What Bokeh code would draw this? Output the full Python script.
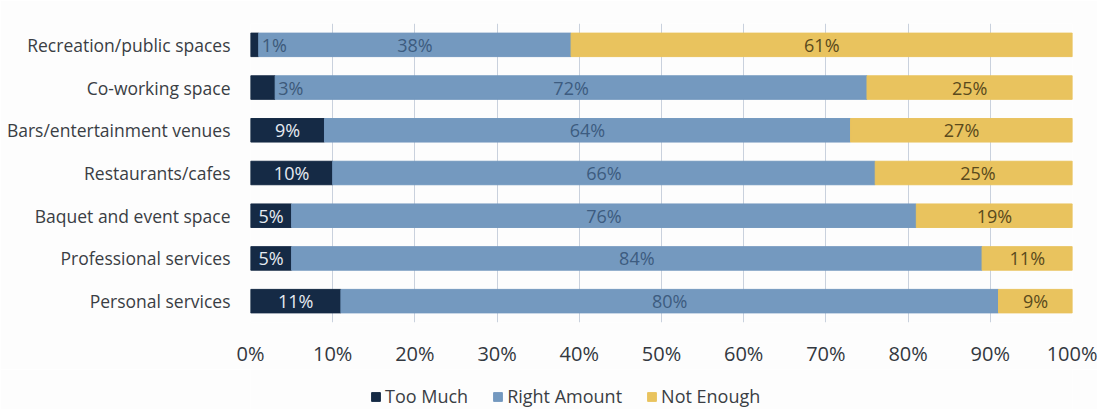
from bokeh.plotting import figure
from bokeh.layouts import column
from bokeh.models import ColumnDataSource, FixedTicker, Legend, LegendItem
from bokeh.core.properties import value
from bokeh.embed import file_html
from bokeh.resources import INLINE

categories = ["Recreation/public spaces", "Co-working space", "Bars/entertainment venues",
              "Restaurants/cafes", "Baquet and event space", "Professional services",
              "Personal services"]
too_much = [1, 3, 9, 10, 5, 5, 11]
right_amount = [38, 72, 64, 66, 76, 84, 80]
not_enough = [61, 25, 27, 25, 19, 11, 9]
series_names = ["Too Much", "Right Amount", "Not Enough"]
tick_values = [0, 10, 20, 30, 40, 50, 60, 70, 80, 90, 100]
tick_labels = ["0%", "10%", "20%", "30%", "40%", "50%", "60%", "70%", "80%", "90%", "100%"]

colors = ["#152a45", "#7499bf", "#e9c35e"]
FONT = "Open Sans"
BG = "#fdfdfd"

s2_end = [a + b for a, b in zip(too_much, right_amount)]
s3_end = [a + b for a, b in zip(s2_end, not_enough)]

src = ColumnDataSource(dict(
    cat=categories,
    l1=[0] * len(categories), r1=too_much,
    l2=too_much, r2=s2_end,
    l3=s2_end, r3=s3_end,
    m2=[a + b / 2 for a, b in zip(too_much, right_amount)],
    m3=[a + b / 2 for a, b in zip(s2_end, not_enough)],
    t2=[f"{v}%" for v in right_amount],
    t3=[f"{v}%" for v in not_enough],
))
# "Too Much" labels: centred inside wide segments, just right of narrow ones
inside = [i for i, v in enumerate(too_much) if v >= 5]
outside = [i for i, v in enumerate(too_much) if v < 5]
src_in = ColumnDataSource(dict(cat=[categories[i] for i in inside],
                               x=[too_much[i] / 2 for i in inside],
                               t=[f"{too_much[i]}%" for i in inside]))
src_out = ColumnDataSource(dict(cat=[categories[i] for i in outside],
                                x=[too_much[i] for i in outside],
                                t=[f"{too_much[i]}%" for i in outside]))

p = figure(width=1097, height=369, y_range=list(reversed(categories)), x_range=(0, 100),
           output_backend="svg", toolbar_location=None,
           min_border_left=250, min_border_right=25, min_border_top=23, min_border_bottom=46)
p.outline_line_color = None
p.background_fill_color = BG
p.border_fill_color = BG

p.hbar(y="cat", left="l1", right="r1", height=0.55, color=colors[0], source=src)
p.hbar(y="cat", left="l2", right="r2", height=0.55, color=colors[1], source=src)
p.hbar(y="cat", left="l3", right="r3", height=0.55, color=colors[2], source=src)

common = dict(text_font=value(FONT), text_font_size=value("18px"), text_baseline="middle")
p.text(x="x", y="cat", text="t", source=src_in, text_align="center",
       text_color="#e6ebf2", **common)
p.text(x="x", y="cat", text="t", source=src_out, text_align="left", x_offset=3,
       text_color="#3d5a7a", **common)
p.text(x="m2", y="cat", text="t2", source=src, text_align="center",
       text_color="#3d5c80", **common)
p.text(x="m3", y="cat", text="t3", source=src, text_align="center",
       text_color="#5a4a1c", **common)

p.xgrid.grid_line_color = "#c9d1dd"
p.ygrid.grid_line_color = None
p.xaxis.ticker = FixedTicker(ticks=tick_values)
p.xaxis.major_label_overrides = {v: t for v, t in zip(tick_values, tick_labels)}
p.xaxis.axis_line_color = None
p.xaxis.major_tick_line_color = None
p.xaxis.minor_tick_line_color = None
p.xaxis.major_label_text_font = FONT
p.xaxis.major_label_text_font_size = "20px"
p.xaxis.major_label_text_color = "#33383f"
p.xaxis.major_label_standoff = 11

p.yaxis.axis_line_color = None
p.yaxis.major_tick_line_color = None
p.yaxis.minor_tick_line_color = None
p.yaxis.major_label_text_font = FONT
p.yaxis.major_label_text_font_size = "17.5px"
p.yaxis.major_label_text_color = "#3a3e44"
p.yaxis.major_label_standoff = 14

# legend strip below the chart (its frame is aligned with the chart's frame)
p2 = figure(width=1097, height=40, x_range=(0, 1), y_range=(0, 1),
            output_backend="svg", toolbar_location=None,
            min_border_left=250, min_border_right=25, min_border_top=0, min_border_bottom=0)
p2.axis.visible = False
p2.grid.grid_line_color = None
p2.outline_line_color = None
p2.background_fill_color = BG
p2.border_fill_color = BG
dummy = ColumnDataSource(dict(y=[-5], left=[0], right=[0]))  # off-range, only for legend swatches
leg_r = [p2.hbar(y="y", left="left", right="right", height=0.5, color=c, source=dummy)
         for c in colors]
legend = Legend(items=[LegendItem(label=n, renderers=[r]) for n, r in zip(series_names, leg_r)],
                orientation="horizontal", location=(120, 1),
                label_text_font=FONT, label_text_font_size="18px", label_text_color="#3a3e44",
                glyph_width=11, glyph_height=11, label_standoff=4, spacing=24,
                padding=0, margin=0, border_line_color=None, background_fill_alpha=0)
p2.add_layout(legend, "center")

layout = column(p, p2, spacing=0)
open("out.html", "w").write(file_html(layout, INLINE))
